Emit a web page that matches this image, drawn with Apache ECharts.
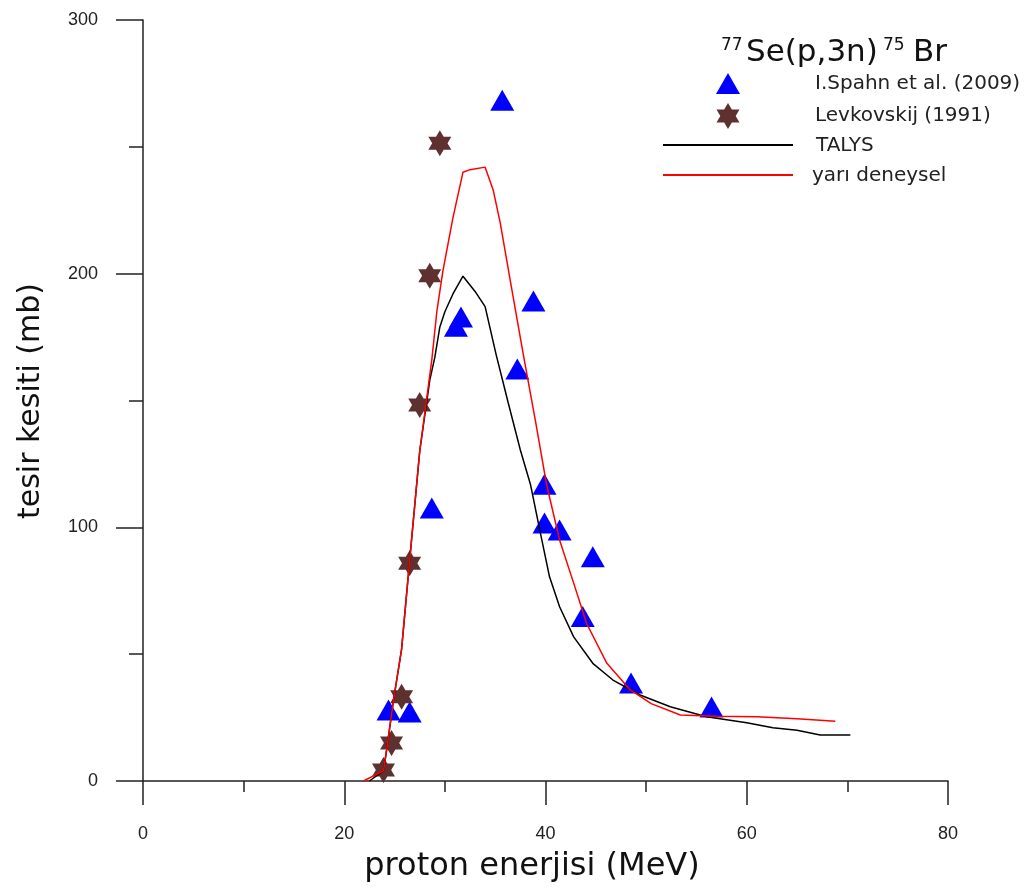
<!DOCTYPE html>
<html>
<head>
<meta charset="utf-8">
<title>77Se(p,3n)75Br</title>
<script src="https://cdn.jsdelivr.net/npm/echarts@6.0.0/dist/echarts.min.js"></script>
<style>
  html, body { margin: 0; padding: 0; background: #fff; }
  #chart { width: 1028px; height: 887px; }
</style>
</head>
<body>
<div id="chart"></div>
<script>
// I.Spahn et al. (2009)
const spahnEnergy = [24.4, 26.5, 28.7, 31.1, 31.6, 35.7, 37.2, 38.8, 39.9, 39.9, 41.4, 43.7, 44.7, 48.5, 56.5];
const spahnXs     = [28, 27.2, 107.6, 179.3, 182.9, 268.4, 162.4, 189.2, 117, 101.7, 98.9, 64.8, 88.4, 38.6, 29.2];

// Levkovskij (1991)
const levEnergy = [23.9, 24.7, 25.7, 26.5, 27.5, 28.5, 29.5];
const levXs     = [4.3, 15, 33.2, 85.8, 148.2, 199.2, 251.4];

// TALYS
const talysEnergy = [22.5, 23.9, 24.2, 24.9, 25.7, 26.5, 27.5, 28.5, 29.0, 29.5, 30.0, 30.8, 31.8, 33.0, 34.0, 35.1, 36.3, 37.5, 38.5, 39.5, 40.4, 41.4, 42.8, 44.7, 46.7, 49.4, 52.4, 56.0, 60.0, 62.6, 65.0, 67.3, 70.3];
const talysXs     = [0, 4, 12, 32, 52, 87, 130, 158, 167, 179, 185, 192, 199, 193, 187, 168, 149, 130.5, 117, 97.6, 80.5, 68.7, 56.8, 46.4, 39.8, 33.9, 29.3, 25.3, 23, 21, 20, 18.1, 18.1];

// yari deneysel
const semiEnergy = [21.9, 23.9, 24.2, 24.9, 25.7, 26.5, 27.5, 28.7, 29.2, 29.8, 30.8, 31.8, 32.5, 34.0, 34.8, 35.5, 36.6, 37.8, 39.0, 40.1, 41.4, 42.8, 44.1, 46.1, 48.4, 50.5, 53.4, 57.0, 61.0, 65.0, 68.8];
const semiXs     = [0, 4, 12, 32, 52, 87, 130, 166, 185, 201, 222, 240, 241, 242, 233, 220, 195, 168, 142, 117, 95, 78, 62, 46.4, 36, 30.5, 26, 25.5, 25.3, 24.5, 23.6];

const xTicks = [0, 20, 40, 60, 80];
const yTicks = [0, 100, 200, 300];

function pairs(xs, ys) {
  return xs.map((x, i) => [x, ys[i]]);
}

// six-pointed star, unit radius 100
const starPts = [[0, -100], [28.9, -50], [86.6, -50], [57.7, 0], [86.6, 50], [28.9, 50],
                 [0, 100], [-28.9, 50], [-86.6, 50], [-57.7, 0], [-86.6, -50], [-28.9, -50]];
const starPath = 'path://M' + starPts.map(p => p.join(',')).join(' L') + ' Z';
const starColor = '#5e3030';
const labelFont = { fontFamily: 'Liberation Sans, Arial, sans-serif', fontSize: 18, color: '#222' };
const legendFont = 'DejaVu Sans, sans-serif';

// star for the legend, centred on (cx, cy)
function starAt(cx, cy, w, h) {
  return starPts.map(p => [cx + p[0] / 86.6 * w / 2, cy + p[1] / 100 * h / 2]);
}

const myChart = echarts.init(document.getElementById('chart'));

const chartoption = {
  animation: false,
  backgroundColor: '#fff',
  grid: { left: 143, right: 80, top: 20, bottom: 106, containLabel: false },
  xAxis: {
    type: 'value',
    min: xTicks[0],
    max: xTicks[xTicks.length - 1],
    interval: 20,
    axisLine: { onZero: false, lineStyle: { color: '#222', width: 1.5 } },
    axisTick: { length: 24, lineStyle: { color: '#222', width: 1.5 } },
    minorTick: { show: true, splitNumber: 2, length: 11, lineStyle: { color: '#222', width: 1.5 } },
    splitLine: { show: false },
    axisLabel: Object.assign({ margin: 44 }, labelFont),
  },
  yAxis: {
    type: 'value',
    min: yTicks[0],
    max: yTicks[yTicks.length - 1],
    interval: 100,
    axisLine: { show: true, onZero: false, lineStyle: { color: '#222', width: 1.5 } },
    axisTick: { show: true, length: 27, lineStyle: { color: '#222', width: 1.5 } },
    minorTick: { show: true, splitNumber: 2, length: 14, lineStyle: { color: '#222', width: 1.5 } },
    splitLine: { show: false },
    axisLabel: Object.assign({ margin: 45 }, labelFont),
  },
  series: [
    {
      name: 'I.Spahn et al. (2009)',
      type: 'scatter',
      symbol: 'triangle',
      symbolSize: [24, 21],
      itemStyle: { color: '#0000ff', opacity: 1 },
      data: pairs(spahnEnergy, spahnXs),
      z: 2,
    },
    {
      name: 'Levkovskij (1991)',
      type: 'scatter',
      symbol: starPath,
      symbolSize: [23, 26],
      itemStyle: { color: starColor, opacity: 1 },
      data: pairs(levEnergy, levXs),
      z: 2,
    },
    {
      name: 'TALYS',
      type: 'line',
      showSymbol: false,
      lineStyle: { color: '#000', width: 1.5 },
      data: pairs(talysEnergy, talysXs),
      z: 3,
    },
    {
      name: 'yarı deneysel',
      type: 'line',
      showSymbol: false,
      lineStyle: { color: '#ff0000', width: 1.5 },
      data: pairs(semiEnergy, semiXs),
      z: 3,
    },
  ],
  graphic: [
    // axis titles
    {
      type: 'text', x: 532, y: 867,
      style: { text: 'proton enerjisi (MeV)', font: '32px ' + legendFont, fill: '#111', textAlign: 'center', textVerticalAlign: 'middle' },
    },
    {
      type: 'text', x: 31, y: 401, rotation: Math.PI / 2,
      style: { text: 'tesir kesiti (mb)', font: '30px ' + legendFont, fill: '#111', textAlign: 'center', textVerticalAlign: 'middle' },
    },
    // reaction label
    { type: 'text', x: 721, y: 46, style: { text: '77', font: '17px ' + legendFont, fill: '#111', textVerticalAlign: 'middle' } },
    { type: 'text', x: 746, y: 53, style: { text: 'Se(p,3n)', font: '31px ' + legendFont, fill: '#111', textVerticalAlign: 'middle' } },
    { type: 'text', x: 883, y: 46, style: { text: '75', font: '17px ' + legendFont, fill: '#111', textVerticalAlign: 'middle' } },
    { type: 'text', x: 913, y: 53, style: { text: 'Br', font: '31px ' + legendFont, fill: '#111', textVerticalAlign: 'middle' } },
    // legend
    { type: 'polygon', shape: { points: [[716, 94], [740, 94], [728, 73]] }, style: { fill: '#0000ff' } },
    { type: 'text', x: 815, y: 84, style: { text: 'I.Spahn et al. (2009)', font: '20px ' + legendFont, fill: '#222', textVerticalAlign: 'middle' } },
    { type: 'polygon', shape: { points: starAt(728, 116, 23, 26) }, style: { fill: starColor } },
    { type: 'text', x: 815, y: 116, style: { text: 'Levkovskij (1991)', font: '20px ' + legendFont, fill: '#222', textVerticalAlign: 'middle' } },
    { type: 'line', shape: { x1: 663, y1: 145, x2: 793, y2: 145 }, style: { stroke: '#000', lineWidth: 2 } },
    { type: 'text', x: 816, y: 146, style: { text: 'TALYS', font: '20px ' + legendFont, fill: '#222', textVerticalAlign: 'middle' } },
    { type: 'line', shape: { x1: 663, y1: 175, x2: 793, y2: 175 }, style: { stroke: '#ff0000', lineWidth: 2 } },
    { type: 'text', x: 812, y: 176, style: { text: 'yarı deneysel', font: '20px ' + legendFont, fill: '#222', textVerticalAlign: 'middle' } },
  ],
};

myChart.setOption(chartoption);
</script>
</body>
</html>
